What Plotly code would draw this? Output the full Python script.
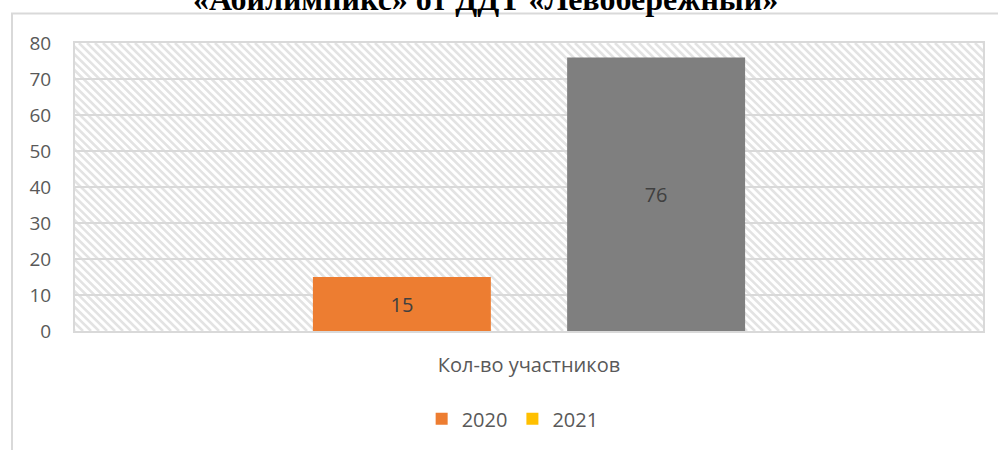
import plotly.graph_objects as go
import urllib.parse

# ---- data ----
categories = ["Кол-во участников"]
series_names = ["2020", "2021"]
values_2020 = [15]
values_2021 = [None]
values_third = [76]
title_text = "«Абилимпикс» от ДДТ «Левобережный»"

W, H = 998, 450
ML, MR, MT, MB = 75, 15, 43, 115
PW, PH = W - ML - MR, H - MT - MB

# decorative hatch for the plot area background
lines = []
step = 8
for k in range(-PH - step, PW + step, step):
    lines.append(f"<line x1='{k}' y1='0' x2='{k + PH}' y2='{PH}'/>")
svg = (
    f"<svg xmlns='http://www.w3.org/2000/svg' width='{PW}' height='{PH}' "
    f"viewBox='0 0 {PW} {PH}' preserveAspectRatio='none'>"
    f"<rect width='{PW}' height='{PH}' fill='white'/>"
    f"<g stroke='#e3e3e3' stroke-width='2.6'>" + "".join(lines) + "</g></svg>"
)
hatch_src = "data:image/svg+xml;charset=utf-8," + urllib.parse.quote(svg)

FONT = "Open Sans"
TXT = "#595959"

fig = go.Figure()
fig.add_trace(go.Bar(
    x=categories, y=values_2020, name=series_names[0],
    marker=dict(color="#ED7D31", line=dict(width=0)),
    offsetgroup="a",
    text=values_2020, textposition="inside", insidetextanchor="middle",
    textfont=dict(family=FONT, size=20, color="#404040"),
))
fig.add_trace(go.Bar(
    x=categories, y=values_2021, name=series_names[1],
    marker=dict(color="#FFC000", line=dict(width=0)),
    offsetgroup="b",
))
fig.add_trace(go.Bar(
    x=categories, y=values_third, name="", showlegend=False,
    marker=dict(color="#7F7F7F", line=dict(width=0)),
    offsetgroup="b",
    text=values_third, textposition="inside", insidetextanchor="middle",
    textfont=dict(family=FONT, size=20, color="#404040"),
))

fig.update_layout(
    width=W, height=H,
    margin=dict(l=ML, r=MR, t=MT, b=MB, pad=0),
    paper_bgcolor="white", plot_bgcolor="white",
    barmode="group", bargap=0.44, bargroupgap=0.3,
    font=dict(family=FONT, color=TXT),
    showlegend=True,
    legend=dict(orientation="h", x=0.482, xanchor="center", y=-0.305, yanchor="middle",
                font=dict(family=FONT, size=20, color=TXT), traceorder="normal",
                itemwidth=30, bgcolor="rgba(0,0,0,0)"),
    xaxis=dict(showgrid=False, showline=True, linecolor="#d9d9d9", linewidth=2, mirror=True,
               ticks="", tickfont=dict(family=FONT, size=20, color=TXT), ticklabelstandoff=15,
               range=[-0.5, 0.5], fixedrange=True),
    yaxis=dict(range=[0, 80], dtick=10, showgrid=True, gridcolor="#d9d9d9", gridwidth=2,
               showline=True, linecolor="#d9d9d9", linewidth=2, mirror=True, zeroline=False,
               ticks="", tickfont=dict(family=FONT, size=19, color=TXT), ticklabelstandoff=18,
               fixedrange=True),
    images=[dict(source=hatch_src, xref="paper", yref="paper", x=0, y=1,
                 sizex=1, sizey=1, xanchor="left", yanchor="top",
                 sizing="stretch", layer="below")],
    shapes=[dict(type="rect", xref="paper", yref="paper",
                 x0=(12 - ML) / PW, x1=(1005 - ML) / PW,
                 y0=(MT + PH - 460) / PH, y1=(MT + PH - 13) / PH,
                 line=dict(color="#d9d9d9", width=2), fillcolor="rgba(0,0,0,0)", layer="below")],
    annotations=[dict(text=f"<b>{title_text}</b>", xref="paper", yref="paper",
                      x=(485 - ML) / PW, y=(MT + PH + 2) / PH, xanchor="center", yanchor="middle",
                      showarrow=False,
                      font=dict(family="Liberation Serif", size=32, color="black"))],
)

fig.write_html("out.html", config={"displayModeBar": False},
               post_script="document.body.style.margin='0';document.body.style.overflow='hidden';")
